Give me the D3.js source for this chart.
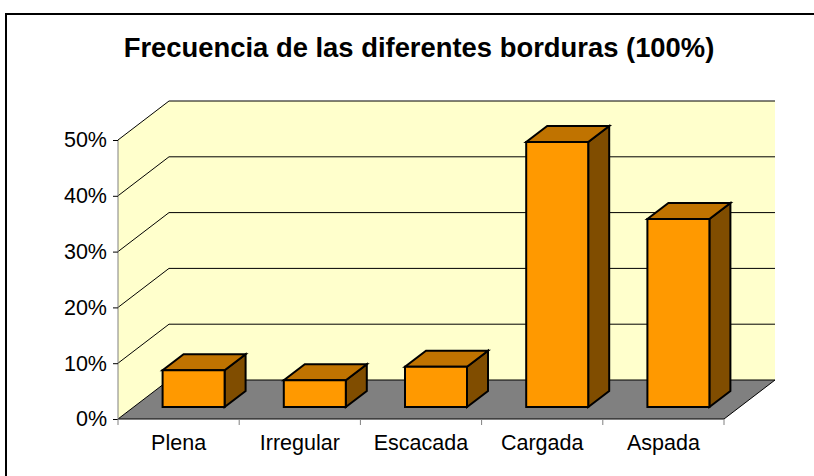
<!DOCTYPE html>
<meta charset="utf-8">
<style>
body { margin: 0; background: #fff; }
text { font-family: "Liberation Sans", Arial, sans-serif; fill: #000; }
.wall { fill: #ffffcc; stroke: none; }
.grid { fill: none; stroke: #000; stroke-width: 1px; }
.edge { fill: none; stroke: #808080; stroke-width: 1px; }
.bar path { stroke: #000; stroke-width: 2px; stroke-linejoin: miter; }
</style>
<svg width="814" height="476" style="display:block"></svg>
<script src="https://d3js.org/d3.v7.min.js"></script>
<script>

var categories = ["Plena", "Irregular", "Escacada", "Cargada", "Aspada"];
var values = [6.6, 4.8, 7.2, 47.5, 33.7];
var yTicks = [0, 10, 20, 30, 40, 50];
var titleText = "Frecuencia de las diferentes borduras (100%)";

var svg = d3.select("svg");

var x = d3.scaleBand().domain(categories).range([118, 724]);
var y = d3.scaleLinear().domain([0, 50]).range([419, 140]);

// depth of the floor, and of a bar standing in the middle of it
var depthX = 51, depthY = -39;
var barDX = 15, barDY = -12, barDepthX = 21, barDepthY = -16;
var barWidth = 62;

// chart frame runs off the picture at right and bottom
svg.append("path")
    .attr("d", "M6,476L6,14L814,14")
    .attr("fill", "none").attr("stroke", "#000").attr("stroke-width", 2);

svg.append("text")
    .attr("x", 419).attr("y", 57)
    .attr("text-anchor", "middle")
    .attr("font-size", 27.4).attr("font-weight", "bold")
    .text(titleText);

// walls
var x0 = x.range()[0], x1 = x.range()[1];
svg.append("path").attr("class", "wall")
    .attr("d", "M" + x0 + "," + y(0) + "L" + x0 + "," + y(50)
      + "L" + (x0 + depthX) + "," + (y(50) + depthY)
      + "L" + (x1 + depthX) + "," + (y(50) + depthY)
      + "L" + (x1 + depthX) + "," + (y(0) + depthY)
      + "L" + (x0 + depthX) + "," + (y(0) + depthY) + "Z");

svg.append("path")
    .attr("d", "M" + x0 + "," + y(0)
      + "L" + x1 + "," + y(0)
      + "L" + (x1 + depthX) + "," + (y(0) + depthY)
      + "L" + (x0 + depthX) + "," + (y(0) + depthY) + "Z")
    .attr("fill", "#808080").attr("stroke", "none");

svg.selectAll(".grid")
  .data(yTicks)
  .enter().append("path")
    .attr("class", "grid")
    .attr("d", function(d) {
      return "M" + x0 + "," + y(d)
        + "L" + (x0 + depthX) + "," + (y(d) + depthY)
        + "L" + (x1 + depthX) + "," + (y(d) + depthY);
    });

// floor front edges
svg.append("path").attr("class", "grid")
    .attr("d", "M" + x0 + "," + y(0) + "L" + x1 + "," + y(0)
      + "L" + (x1 + depthX) + "," + (y(0) + depthY));

svg.append("line").attr("class", "edge")
    .attr("x1", x0).attr("x2", x0)
    .attr("y1", y(0)).attr("y2", y(50));

// axes
var yAxis = d3.axisLeft(y).tickValues(yTicks)
    .tickSize(5).tickPadding(6)
    .tickFormat(function(d) { return d + "%"; });
var gy = svg.append("g").attr("transform", "translate(" + x0 + ",0)").call(yAxis);
gy.select(".domain").remove();
gy.selectAll("line").attr("stroke", "#000");
gy.selectAll("text").attr("font-size", 21.5).attr("font-family", "Liberation Sans");

var gx = svg.append("g").attr("transform", "translate(0," + y(0) + ")");
gx.selectAll("line")
  .data(x.domain().map(function(d) { return x(d); }).concat([x1]))
  .enter().append("line")
    .attr("x1", function(d) { return d; })
    .attr("x2", function(d) { return d; })
    .attr("y1", 0).attr("y2", 6)
    .attr("stroke", "#808080");
gx.selectAll("text")
  .data(categories)
  .enter().append("text")
    .attr("x", function(d) { return x(d) + x.bandwidth() / 2; })
    .attr("y", 31)
    .attr("text-anchor", "middle")
    .attr("font-size", 21.5)
    .text(function(d) { return d; });

// bars
var bar = svg.selectAll(".bar")
  .data(categories.map(function(c, i) { return {name: c, value: values[i]}; }))
  .enter().append("g")
    .attr("class", "bar");

function barLeft(d) { return x(d.name) + x.bandwidth() / 2 - barWidth / 2 + barDX; }
function barBottom() { return y(0) + barDY; }
function barTop(d) { return y(d.value) + barDY; }

bar.append("path")
    .attr("fill", "#804d00")
    .attr("d", function(d) {
      var r = barLeft(d) + barWidth;
      return "M" + r + "," + barBottom() + "L" + r + "," + barTop(d)
        + "L" + (r + barDepthX) + "," + (barTop(d) + barDepthY)
        + "L" + (r + barDepthX) + "," + (barBottom() + barDepthY) + "Z";
    });

bar.append("path")
    .attr("fill", "#c07300")
    .attr("d", function(d) {
      var l = barLeft(d), r = l + barWidth;
      return "M" + l + "," + barTop(d) + "L" + r + "," + barTop(d)
        + "L" + (r + barDepthX) + "," + (barTop(d) + barDepthY)
        + "L" + (l + barDepthX) + "," + (barTop(d) + barDepthY) + "Z";
    });

bar.append("path")
    .attr("fill", "#ff9900")
    .attr("d", function(d) {
      var l = barLeft(d), r = l + barWidth;
      return "M" + l + "," + barBottom() + "L" + l + "," + barTop(d)
        + "L" + r + "," + barTop(d) + "L" + r + "," + barBottom() + "Z";
    });

</script>
